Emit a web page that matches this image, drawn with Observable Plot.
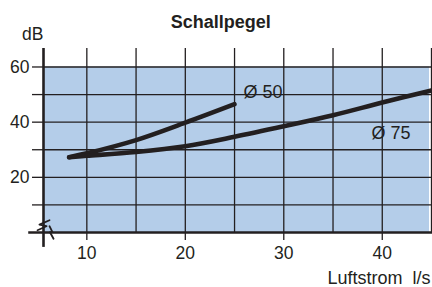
<!DOCTYPE html>
<html><head><meta charset="utf-8">
<script src="https://cdn.jsdelivr.net/npm/d3@7"></script>
<script src="https://cdn.jsdelivr.net/npm/@observablehq/plot@0.6"></script>
<style>body{margin:0;background:#fff}</style>
</head><body><div id="chart"></div>
<script>
// Data (Luftstrom l/s vs. Schallpegel dB)
const flow50 = [8.2, 10, 15, 20, 25];
const db50   = [27.3, 28.7, 33.5, 39.8, 46.5];
const flow75 = [8.2, 10, 15, 20, 25, 30, 35, 40, 45];
const db75   = [27.3, 27.8, 29.2, 31.3, 34.7, 38.5, 42.5, 47.1, 51.5];
const xTicks = [10, 20, 30, 40];
const yTicks = [10, 20, 30, 40, 50, 60];
const yLabels = [20, 40, 60];
const xGrid = [10, 15, 20, 25, 30, 35, 40, 45];
const seriesNames = ["Ø 50", "Ø 75"];

const ink = "#231f20";
const x0 = 5.6, xMax = 45, yTop = 66.7;

const s50 = flow50.map((x, i) => ({x, y: db50[i]}));
const s75 = flow75.map((x, i) => ({x, y: db75[i]}));
// axis-break zigzags (in data units near origin)
const breakY = [{x:6.21,y:4.46},{x:5.19,y:2.83},{x:5.9,y:2.28},{x:4.99,y:0.83}];
const breakX = [{x:6.21,y:2.28},{x:6.51,y:0.11},{x:6.26,y:0.11},{x:6.62,y:-2.25}];

const chart = Plot.plot({
  width: 432, height: 287,
  marginLeft: 43, marginRight: 1, marginTop: 48, marginBottom: 55,
  x: {domain: [x0, xMax]},
  y: {domain: [0, yTop]},
  style: {fontFamily: "'Liberation Sans', Arial, sans-serif", fontSize: "17px", color: ink, background: "white", overflow: "visible"},
  marks: [
    Plot.rect([0], {x1: x0, x2: 44.8, y1: 0, y2: 60, fill: "#b4cde9"}),
    Plot.ruleX(xGrid, {y1: 0, y2: yTop, stroke: ink, strokeWidth: 1.3}),
    Plot.ruleY(yTicks, {x1: x0, x2: xMax + 0.2, stroke: ink, strokeWidth: 1.3}),
    Plot.axisY({ticks: yTicks, tickSize: 11, tickPadding: 3, strokeWidth: 1.3,
      tickFormat: d => yLabels.includes(d) ? String(d) : "", label: null, fontSize: 17.5}),
    Plot.axisX({ticks: xTicks, tickSize: 8, tickPadding: 6, strokeWidth: 1.3, label: null, fontSize: 17.5}),
    Plot.ruleX([x0], {y1: -5.4, y2: yTop, stroke: ink, strokeWidth: 2.6}),
    Plot.ruleY([0], {x1: 4.1, x2: xMax + 0.2, stroke: ink, strokeWidth: 2.6}),
    Plot.line(breakY, {x: "x", y: "y", stroke: ink, strokeWidth: 1.8}),
    Plot.line(breakX, {x: "x", y: "y", stroke: ink, strokeWidth: 1.8}),
    Plot.line(s50, {x: "x", y: "y", curve: "catmull-rom", stroke: ink, strokeWidth: 4.6}),
    Plot.line(s75, {x: "x", y: "y", curve: "catmull-rom", stroke: ink, strokeWidth: 4.6}),
    Plot.text([seriesNames[0]], {x: 25.9, y: 51, text: d => d, textAnchor: "start", fontSize: 18, fill: ink}),
    Plot.text([seriesNames[1]], {x: 38.9, y: 36, text: d => d, textAnchor: "start", fontSize: 18, fill: ink}),
    Plot.text(["Schallpegel"], {x: 23.6, y: 76.3, text: d => d, fontWeight: "bold", fontSize: 18, fill: ink}),
    Plot.text(["dB"], {x: 4.5, y: 71.9, text: d => d, fontSize: 17.5, fill: ink}),
    Plot.text(["Luftstrom\u00a0\u00a0l/s"], {x: 44.9, y: -16.4, text: d => d, textAnchor: "end", fontSize: 18, fill: ink})
  ]
});
document.getElementById("chart").appendChild(chart);
</script>
</body></html>
